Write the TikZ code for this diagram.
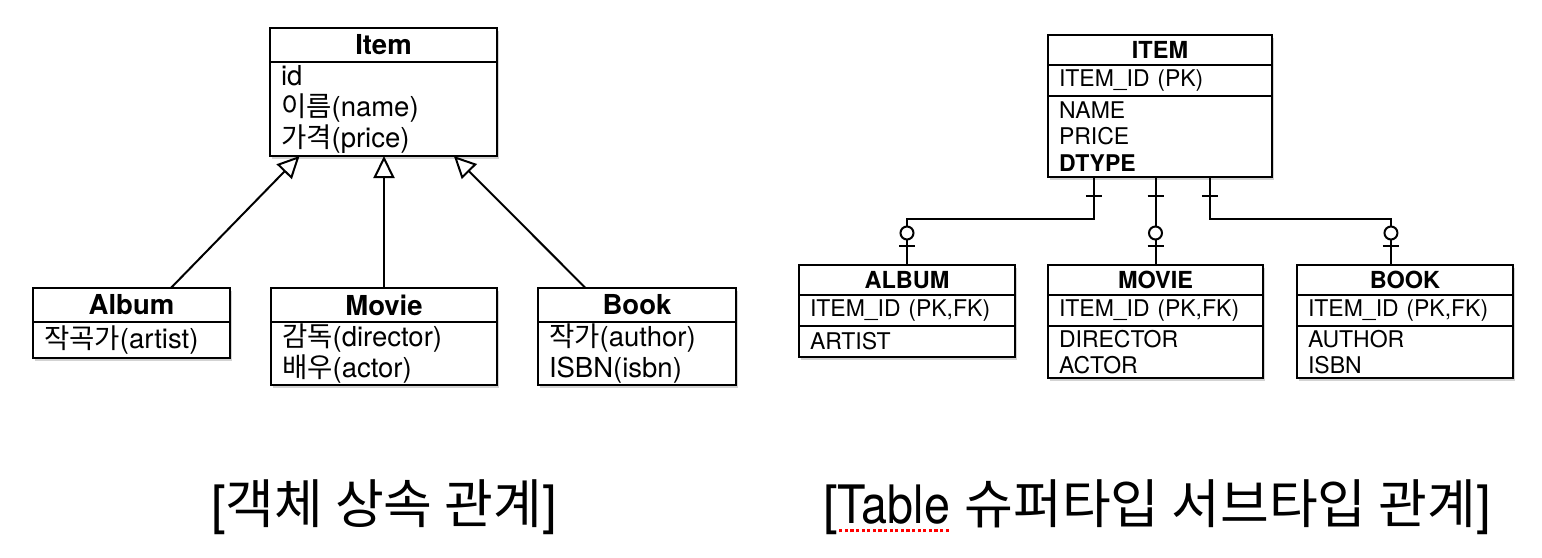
\documentclass[tikz,border=0pt]{standalone}
\usepackage{fontspec}
\setmainfont{TeX Gyre Heros}
\newfontfamily\kr{Noto Sans CJK KR}
\usetikzlibrary{positioning, arrows.meta, calc, fit, backgrounds, shadows, decorations.markings}

% red dotted spell-check line under a word
\newcommand\spellmark[1]{\setbox0\hbox{#1}\rlap{\raisebox{-9pt}{\color{red}\xleaders\hbox to 5.5pt{\hss\rule{3.2pt}{3.2pt}\hss}\hskip\wd0}}#1}

\begin{document}
\begin{tikzpicture}[
    x=1pt, y=-1pt,
    line width=2pt,
    % object classes (left)
    cls/.style={
        rectangle,
        draw,
        fill=white,
        outer sep=0pt,
        inner sep=0pt,
        line width=2.2pt
    },
    clsname/.style={
        cls,
        anchor=north west,
        minimum height=34pt,
        font=\bfseries\fontsize{27.5}{31}\selectfont
    },
    clsattr/.style={
        cls,
        align=left,
        inner xsep=11pt,
        font=\fontsize{27.5}{31}\selectfont
    },
    % tables (right)
    tblname/.style={
        cls,
        anchor=north west,
        minimum height=30pt,
        font=\bfseries\fontsize{23.5}{26.5}\selectfont
    },
    tblrow/.style={
        cls,
        align=left,
        inner xsep=11pt,
        font=\fontsize{23}{26.5}\selectfont
    },
    shade/.style={
        rectangle,
        inner sep=0pt,
        fill=white,
        drop shadow={shadow xshift=2pt, shadow yshift=-3pt, opacity=0.35}
    },
    inherit/.style={
        -{Triangle[open, length=22pt, width=21pt, line width=2pt]},
        line width=2pt
    },
    relation/.style={
        line width=2pt,
        postaction={decorate},
        decoration={markings,
            mark=at position 19pt with {\draw[line width=2pt] (0,-8pt) -- (0,8pt);},
            mark=at position -32pt with {\draw[line width=2pt, fill=white] (0,0) circle (6.5pt);},
            mark=at position -19pt with {\draw[line width=2pt] (0,-8pt) -- (0,8pt);}
        }
    },
    caption/.style={
        font=\fontsize{53}{60}\selectfont
    }
]
\useasboundingbox (0,0) rectangle (1542,557);

    % Item class
    \node[clsname, minimum width=227pt] (itemT) at (270,28) {Item};
    \node[clsattr, text width=205pt, minimum height=94pt, below=0pt of itemT] (itemA)
        {id\\{\kr 이름}(name)\\{\kr 가격}(price)};

    % Subclasses
    \node[clsname, minimum width=197pt] (albumT) at (33,288) {Album};
    \node[clsattr, text width=175pt, minimum height=36pt, below=0pt of albumT] (albumA)
        {{\kr 작곡가}(artist)};

    \node[clsname, minimum width=226pt] (movieT) at (271,288) {Movie};
    \node[clsattr, text width=204pt, minimum height=63pt, below=0pt of movieT] (movieA)
        {{\kr 감독}(director)\\{\kr 배우}(actor)};

    \node[clsname, minimum width=198pt] (bookT) at (538,288) {Book};
    \node[clsattr, text width=176pt, minimum height=63pt, below=0pt of bookT] (bookA)
        {{\kr 작가}(author)\\ISBN(isbn)};

    % ITEM table
    \node[tblname, minimum width=224pt] (itemRT) at (1048,35) {ITEM};
    \node[tblrow, text width=202pt, minimum height=31pt, below=0pt of itemRT] (itemRK) {ITEM\_ID (PK)};
    \node[tblrow, text width=202pt, minimum height=81pt, below=0pt of itemRK] (itemR)
        {NAME\\PRICE\\\textbf{DTYPE}};

    % Sub tables
    \node[tblname, minimum width=216pt] (albumRT) at (799,265) {ALBUM};
    \node[tblrow, text width=194pt, minimum height=31pt, below=0pt of albumRT] (albumRK) {ITEM\_ID (PK,FK)};
    \node[tblrow, text width=194pt, minimum height=31pt, below=0pt of albumRK] (albumR) {ARTIST};

    \node[tblname, minimum width=215pt] (movieRT) at (1048,265) {MOVIE};
    \node[tblrow, text width=193pt, minimum height=31pt, below=0pt of movieRT] (movieRK) {ITEM\_ID (PK,FK)};
    \node[tblrow, text width=193pt, minimum height=52pt, below=0pt of movieRK] (movieR) {DIRECTOR\\ACTOR};

    \node[tblname, minimum width=216pt] (bookRT) at (1297,265) {BOOK};
    \node[tblrow, text width=194pt, minimum height=31pt, below=0pt of bookRT] (bookRK) {ITEM\_ID (PK,FK)};
    \node[tblrow, text width=194pt, minimum height=52pt, below=0pt of bookRK] (bookR) {AUTHOR\\ISBN};

    % shadows
    \begin{scope}[on background layer]
        \node[shade, fit=(itemT) (itemA)] {};
        \node[shade, fit=(albumT) (albumA)] {};
        \node[shade, fit=(movieT) (movieA)] {};
        \node[shade, fit=(bookT) (bookA)] {};
        \node[shade, fit=(itemRT) (itemR)] {};
        \node[shade, fit=(albumRT) (albumR)] {};
        \node[shade, fit=(movieRT) (movieR)] {};
        \node[shade, fit=(bookRT) (bookR)] {};
    \end{scope}

    % Inheritance
    \draw[inherit] ($(albumT.north west)!0.7!(albumT.north east)$) -- ($(itemA.south west)!0.13!(itemA.south east)$);
    \draw[inherit] (movieT.north) -- (movieT.north |- itemA.south);
    \draw[inherit] ($(bookT.north west)!0.24!(bookT.north east)$) -- ($(itemA.south west)!0.81!(itemA.south east)$);

    % Super / sub type
    \draw[relation] ($(itemR.south west)!0.205!(itemR.south east)$) -- ++(0,42) -| (albumRT.north);
    \draw[relation] (movieRT.north |- itemR.south) -- (movieRT.north);
    \draw[relation] ($(itemR.south west)!0.723!(itemR.south east)$) -- ++(0,42)
        -| ($(bookRT.north west)!0.435!(bookRT.north east)$);

    % Captions
    \node[caption] (capL) at (384,507) {[{\kr 객체 상속 관계}]};
    \node[caption] (capR) at (1157,507) {[\spellmark{\scalebox{0.88}[1]{Table}} {\kr 슈퍼타입 서브타입 관계}]};

\end{tikzpicture}
\end{document}
